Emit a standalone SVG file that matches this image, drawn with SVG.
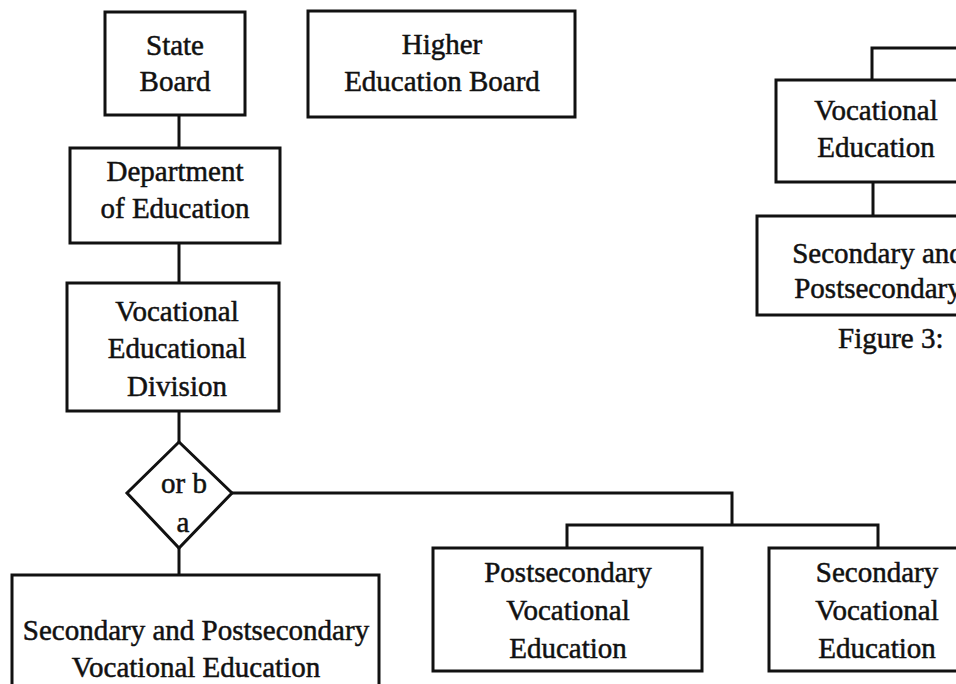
<svg xmlns="http://www.w3.org/2000/svg" width="956" height="684" viewBox="0 0 956 684">
  <style>
    .box { fill: #ffffff; stroke: #111111; stroke-width: 3; }
    .wire { fill: none; stroke: #111111; stroke-width: 3; }
    text { font-family: "Liberation Serif", "Times New Roman", serif; font-size: 29px; fill: #111111; stroke: #111111; stroke-width: 0.5; text-anchor: middle; }
  </style>
  <rect width="956" height="684" fill="#ffffff"/>

  <!-- connectors -->
  <g id="connectors">
    <path class="wire" d="M179 115 V148"/>
    <path class="wire" d="M179 243 V283"/>
    <path class="wire" d="M179 411 V442"/>
    <path class="wire" d="M179 548 V575"/>
    <path class="wire" d="M232 493 H732 V525"/>
    <path class="wire" d="M567 548 V525 H878 V548"/>
    <path class="wire" d="M872 80 V48 H960"/>
    <path class="wire" d="M873 182 V216"/>
  </g>

  <g id="state-board">
    <rect class="box" x="105" y="12" width="140" height="103"/>
    <text x="175" y="55">State</text>
    <text x="175" y="91">Board</text>
  </g>

  <g id="higher-education-board">
    <rect class="box" x="308" y="11" width="267" height="106"/>
    <text x="442" y="54">Higher</text>
    <text x="442" y="91">Education Board</text>
  </g>

  <g id="department-of-education">
    <rect class="box" x="70" y="148" width="210" height="95"/>
    <text x="175" y="181">Department</text>
    <text x="175" y="218">of Education</text>
  </g>

  <g id="vocational-division">
    <rect class="box" x="67" y="283" width="212" height="128"/>
    <text x="177" y="321">Vocational</text>
    <text x="177" y="358">Educational</text>
    <text x="177" y="396">Division</text>
  </g>

  <g id="choice">
    <polygon class="box" points="179,442 232,493 179,548 127,493"/>
    <text x="184" y="493">or b</text>
    <text x="183" y="532">a</text>
  </g>

  <g id="secondary-and-postsecondary">
    <rect class="box" x="12" y="575" width="367" height="130"/>
    <text x="196" y="640">Secondary and Postsecondary</text>
    <text x="196" y="677">Vocational Education</text>
  </g>

  <g id="postsecondary">
    <rect class="box" x="433" y="548" width="269" height="123"/>
    <text x="568" y="582">Postsecondary</text>
    <text x="568" y="620">Vocational</text>
    <text x="568" y="658">Education</text>
  </g>

  <g id="secondary">
    <rect class="box" x="769" y="548" width="216" height="123"/>
    <text x="877" y="582">Secondary</text>
    <text x="877" y="620">Vocational</text>
    <text x="877" y="658">Education</text>
  </g>

  <g id="vocational-education">
    <rect class="box" x="776" y="80" width="200" height="102"/>
    <text x="876" y="120">Vocational</text>
    <text x="876" y="157">Education</text>
  </g>

  <!-- this box runs past the right edge of the sheet, so its label is clipped there -->
  <g id="secondary-and-postsecondary-right">
    <rect class="box" x="757" y="216" width="240" height="99"/>
    <text x="878" y="263">Secondary and</text>
    <text x="878" y="298">Postsecondary</text>
  </g>

  <g id="caption">
    <text x="838" y="348" style="text-anchor:start">Figure 3:</text>
  </g>
</svg>
